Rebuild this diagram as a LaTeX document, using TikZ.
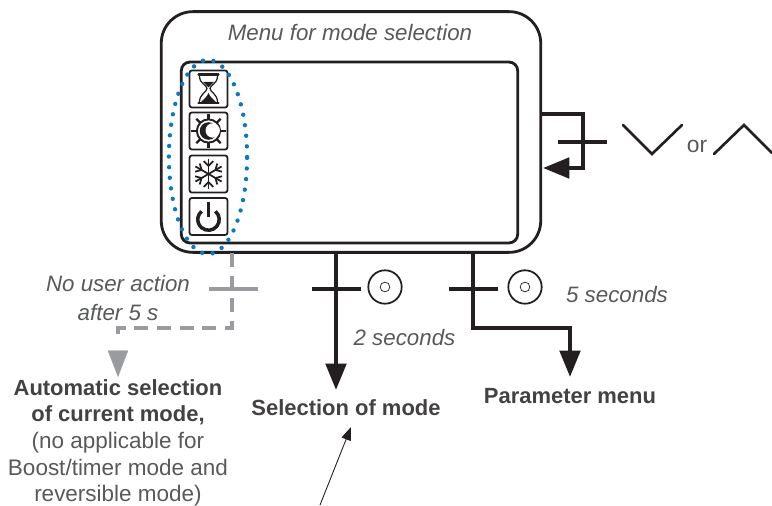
\documentclass[tikz,border=0pt]{standalone}
\usepackage{fontspec}
\setmainfont{Liberation Sans}
\usepackage{xcolor}
\usetikzlibrary{arrows.meta,shapes.geometric}
\definecolor{dotblue}{HTML}{0A78C2}
\definecolor{inkblack}{HTML}{231F20}
\definecolor{inkgray}{HTML}{9A9B9E}
\definecolor{notegray}{HTML}{58595B}
\tikzset{
  framebox/.style={rectangle, draw=inkblack, line width=1.6pt},
  iconbox/.style={rectangle, draw=inkblack, line width=1pt, rounded corners=1.2pt, minimum width=21.5pt, minimum height=21pt, inner sep=0pt},
  iconline/.style={draw=inkblack, line width=1.2pt},
  signalline/.style={draw=inkblack, line width=2.5pt, line join=miter},
  grayline/.style={draw=inkgray, line width=2.5pt, dash pattern=on 8pt off 4.9pt},
  barline/.style={draw=inkblack, line width=2.5pt},
  chevron/.style={draw=inkblack, line width=1.5pt},
  bigtip/.style={-{Triangle[length=15pt,width=11.5pt]}},
  notetext/.style={font=\fontsize{12.7}{16}\selectfont\itshape, text=notegray, align=center},
  actiontext/.style={font=\fontsize{12.5}{14.8}\selectfont\bfseries, text=inkblack!85, align=center},
  pushbutton/.style={circle, draw=inkblack, line width=1pt, minimum size=19pt, inner sep=0pt},
  pushdot/.style={circle, draw=inkblack, line width=0.4pt, minimum size=5.5pt, inner sep=0pt},
}
\begin{document}
\begin{tikzpicture}[x=0.02cm, y=-0.02cm]
\useasboundingbox (0,0) rectangle (772,506);

% frame and screen
\node[framebox, rounded corners=18pt, minimum width=216pt, minimum height=137pt] (menubox) at (351,132) {};
\node[framebox, rounded corners=5pt, minimum width=191.5pt, minimum height=103pt] (screen) at (349.5,152.5) {};
\node[notetext] (menutitle) at (350,33) {Menu for mode selection};

% mode icons
\node[iconbox] (timer) at (208.5,89) {};
\node[iconbox] (daynight) at (208.5,131) {};
\node[iconbox] (frost) at (208.5,174) {};
\node[iconbox] (power) at (208.5,216.5) {};

% hourglass
\draw[iconline, line width=0.7pt] (199.5,76) .. controls (199.5,84) and (207,85) .. (207,88.5)
  .. controls (207,92) and (199.5,94) .. (199.5,102);
\draw[iconline, line width=0.7pt] (217.5,76) .. controls (217.5,84) and (210,85) .. (210,88.5)
  .. controls (210,92) and (217.5,94) .. (217.5,102);
\draw[iconline, line cap=round] (198.5,74.5) -- (218.5,74.5);
\draw[iconline, line cap=round] (198.5,103) -- (218.5,103);
\fill[inkblack] (200,103) .. controls (204,99) and (207,97) .. (208.5,93) .. controls (210,97) and (213,99) .. (217,103) -- cycle;
\fill[inkblack] (203,82) -- (214,82) -- (208.5,87.5) -- cycle;

% sun and moon
\foreach \ang in {0,45,...,315}
  \draw[iconline, line width=1.3pt] (daynight.center) ++(\ang:6.8pt) -- ++(\ang:3pt);
\draw[iconline, line width=1.1pt] (daynight.center) circle (6.6pt);
\fill[inkblack] (daynight.center) circle (5pt);
\fill[white] ([xshift=2.4pt,yshift=0.3pt]daynight.center) circle (4.1pt);

% snowflake
\foreach \ang in {30,90,...,330} {
  \draw[iconline, line width=1pt] (frost.center) -- ++(\ang:8.6pt);
  \draw[iconline, line width=1pt] (frost.center) ++(\ang:4.6pt) -- ++(\ang+45:3.8pt);
  \draw[iconline, line width=1pt] (frost.center) ++(\ang:4.6pt) -- ++(\ang-45:3.8pt);
}

% power symbol
\draw[iconline, line width=2pt] (208.5,219.5) ++(50:6.1pt) arc (50:-230:6.1pt);
\draw[iconline, line width=2.2pt] (208.5,202) -- (208.5,217);

% grouping ring
\node[draw=dotblue, line width=2.5pt, line cap=round, dash pattern=on 0pt off 6.05pt, ellipse, minimum width=44.5pt, minimum height=110.5pt, inner sep=0pt] (modering) at (208,157) {};

% edit loop
\coordinate (loopin) at (542,114);
\coordinate (loopout) at (543,168);
\node[inner sep=0pt] (orword) at (697,146) {\fontsize{13}{14}\selectfont\color{notegray}or};
\draw[signalline, bigtip] (loopin) -| (583,168) -- (loopout);
\draw[barline] (558,142) -- (607,142);
\draw[chevron, line cap=round] (623,125) -- (652,154) -- (682,125);
\draw[chevron, line cap=round] (714,154) -- (744,125) -- (772,153);

% no action branch
\node[notetext] (noaction) at (118,298) {No user action\\after 5 s};
\coordinate (autotip) at (118,377);
\node[actiontext] (autosel) at (118,402) {Automatic selection\\of current mode,};
\node[font=\fontsize{12.8}{15}\selectfont, text=notegray, align=center] (autonote) at (118,469.5) {(no applicable for\\Boost/timer mode and\\reversible mode)};
\draw[grayline] (232,253) -- (232,328) -- (118,328) -- (118,338);
\draw[draw=inkgray, fill=inkgray, line width=0.1pt, -{Triangle[length=15pt,width=11.5pt]}] (118,351) -- (autotip);
\draw[inkgray, line width=2.5pt] (209,289) -- (258,289);

% short press branch
\node[pushbutton] (shortbtn) at (385,287) {};
\node[pushdot] at (shortbtn.center) {};
\node[notetext] (shorttime) at (404.5,338) {2 seconds};
\node[actiontext] (selmode) at (346,408) {Selection of mode};
\coordinate (seltip) at (336,390);
\draw[signalline, bigtip] (menubox.south -| seltip) -- (seltip);
\draw[barline] (312,289) -- (361,289);

% long press branch
\node[pushbutton] (longbtn) at (525,287) {};
\node[pushdot] at (longbtn.center) {};
\node[notetext] (longtime) at (617,295) {5 seconds};
\node[actiontext] (parmenu) at (570,396) {Parameter menu};
\coordinate (partip) at (570,377);
\draw[signalline, bigtip] (menubox.south -| 473,0) |- (570,328) -- (partip);
\draw[barline] (449,289) -- (498,289);

% pointer
\coordinate (pointfoot) at (320,505);
\coordinate (pointtip) at (351,427);
\draw[inkblack, line width=0.5pt, -{Triangle[length=7.5pt,width=5.5pt]}] (pointfoot) -- (pointtip);
\end{tikzpicture}
\end{document}
